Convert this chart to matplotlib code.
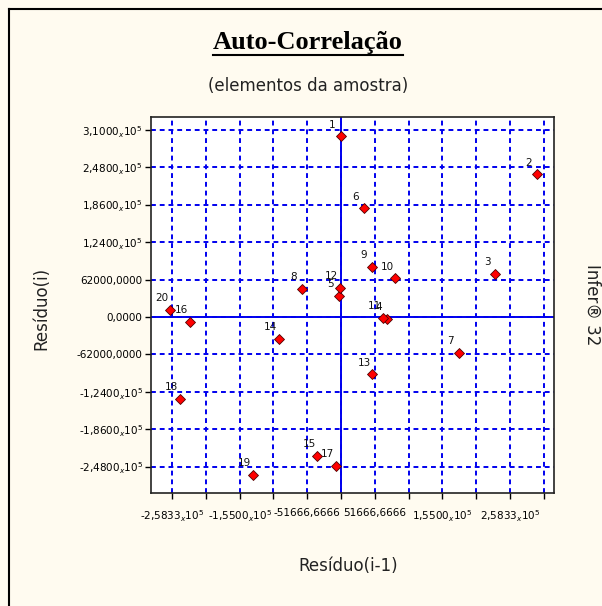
import matplotlib
matplotlib.use('Agg')
import matplotlib.pyplot as plt
from matplotlib.lines import Line2D
import numpy as np

# residuals; point i is (r[i-1], r[i])
residuos = [-500, 299000, 236000, 71000, -3000, 34500, 180000, -60000, 47000,
            83000, 64000, -1500, 48000, -95000, -36000, -230500, -7700,
            -246000, -135000, -261500, 11600]
rotulos = [str(i) for i in range(1, 21)]

passo_x = 51666.6666
xticks_k = list(range(-5, 7))
xtick_labels = {-5: r'-2,5833$_{x}$10$^{5}$', -3: r'-1,5500$_{x}$10$^{5}$',
                -1: '-51666,6666', 1: '51666,6666',
                3: r'1,5500$_{x}$10$^{5}$', 5: r'2,5833$_{x}$10$^{5}$'}
yticks = [-248000, -186000, -124000, -62000, 0, 62000, 124000, 186000, 248000, 310000]
ytick_labels = [r'-2,4800$_{x}$10$^{5}$', r'-1,8600$_{x}$10$^{5}$', r'-1,2400$_{x}$10$^{5}$',
                '-62000,0000', '0,0000', '62000,0000',
                r'1,2400$_{x}$10$^{5}$', r'1,8600$_{x}$10$^{5}$',
                r'2,4800$_{x}$10$^{5}$', r'3,1000$_{x}$10$^{5}$']

x = residuos[:-1]
y = residuos[1:]

W, H = 602, 606
bg = '#FFFBF0'
azul = '#0000EE'

fig = plt.figure(figsize=(W / 100, H / 100), dpi=100, facecolor=bg)
ax = fig.add_axes([151 / W, 1 - 493 / H, 403 / W, 376 / H])
ax.set_facecolor('white')

ax.set_xlim(-290400, 325600)
ax.set_ylim(-291400, 331200)

xt = [k * passo_x for k in xticks_k]
ax.set_xticks(xt)
ax.set_xticklabels([xtick_labels.get(k, '') for k in xticks_k], fontsize=7.5)
ax.set_yticks(yticks)
ax.set_yticklabels(ytick_labels, fontsize=7.5)
ax.tick_params(direction='out', length=4, width=1, colors='black', pad=2)
ax.tick_params(axis='x', pad=7)

ax.grid(True, color=azul, linestyle=(0, (2.5, 2)), linewidth=1.4, zorder=1)
ax.axhline(0, color=azul, lw=1.4, zorder=1.5)
ax.axvline(0, color=azul, lw=1.4, zorder=1.5)
ax.set_axisbelow(True)

for s in ax.spines.values():
    s.set_color('#222222')
    s.set_linewidth(1.2)

for xi, yi, lab in zip(x, y, rotulos):
    ax.annotate(lab, (xi, yi), xytext=(-6, 8.5), textcoords='offset points',
                ha='center', va='center', fontsize=7.5, color='#111111', zorder=2)
ax.plot(x, y, linestyle='none', marker='D', markersize=5, markerfacecolor='#FF0000',
        markeredgecolor='#500000', markeredgewidth=0.6, zorder=3)

# titles and labels
t = fig.text(308 / W, 1 - 49 / H, 'Auto-Correlação', ha='center', va='baseline',
             fontsize=19, fontweight='bold', family='Liberation Serif')
fig.text(308 / W, 1 - 86 / H, '(elementos da amostra)', ha='center', va='center',
         fontsize=12, color='#222222')
fig.text(41 / W, 1 - 308 / H, 'Resíduo(i)', ha='center', va='center', rotation=90,
         fontsize=12, color='#222222')
fig.text(348 / W, 1 - 566 / H, 'Resíduo(i-1)', ha='center', va='center',
         fontsize=12, color='#222222')
fig.text(592 / W, 1 - 305 / H, 'Infer® 32', ha='center', va='center', rotation=270,
         fontsize=12, color='#222222')

# underline the title
fig.canvas.draw()
bb = t.get_window_extent()
fig.add_artist(Line2D([bb.x0 / W, bb.x1 / W], [1 - 55 / H, 1 - 55 / H],
                      transform=fig.transFigure, color='black', lw=1.5))

# frame of the panel
fig.add_artist(Line2D([8.5 / W, 8.5 / W], [0, 1 - 8.5 / H], transform=fig.transFigure,
                      color='black', lw=1.5))
fig.add_artist(Line2D([8.5 / W, 1], [1 - 8.5 / H, 1 - 8.5 / H], transform=fig.transFigure,
                      color='black', lw=1.5))

fig.savefig('out.png', dpi=100, facecolor=bg)
